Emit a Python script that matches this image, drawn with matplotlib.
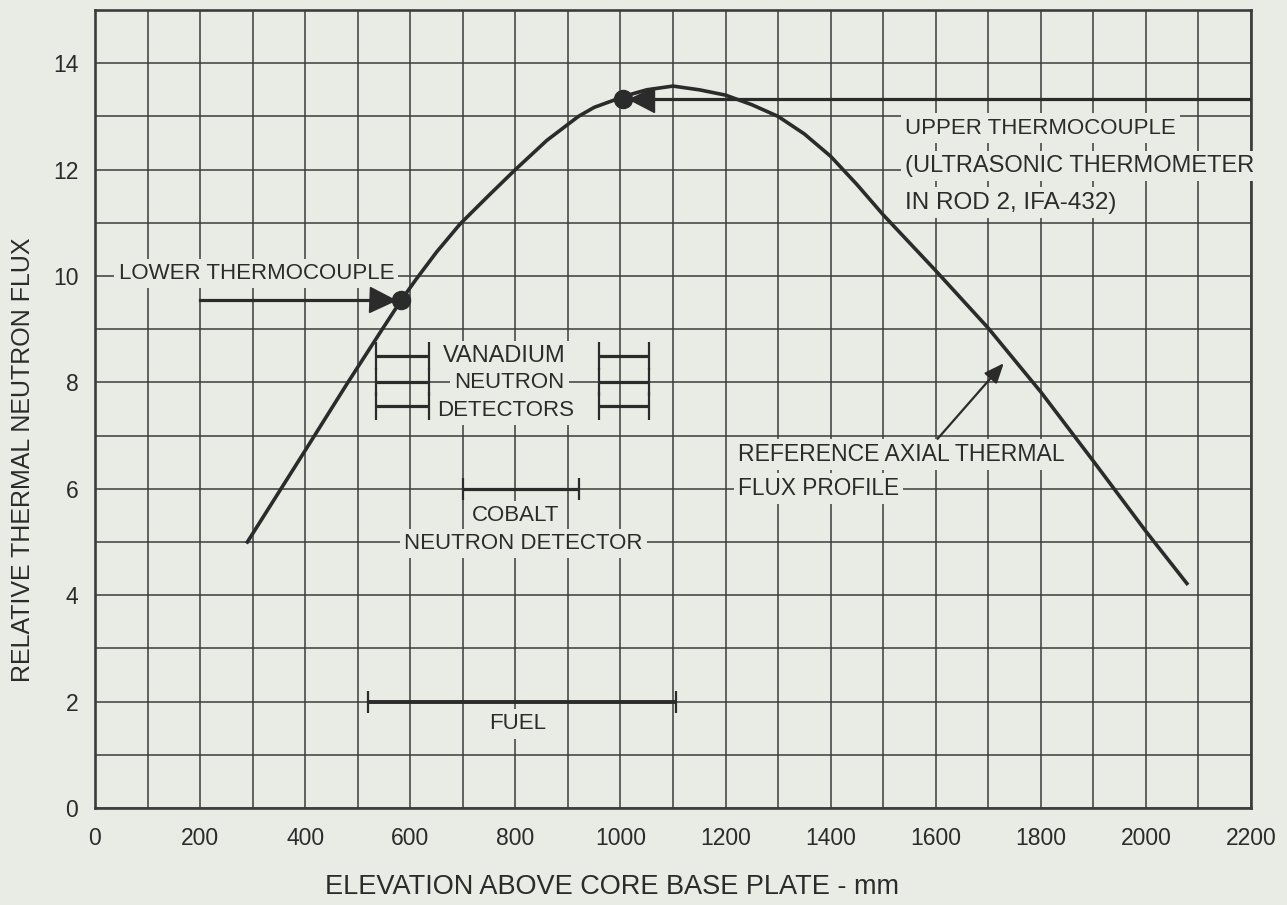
import numpy as np
import matplotlib
matplotlib.use('Agg')
import matplotlib.pyplot as plt

plt.rcParams['font.family'] = ['Liberation Sans', 'DejaVu Sans']

### data (elevation in mm, relative flux)
elev = [290, 400, 480, 550, 583, 612, 650, 695, 750, 800, 860, 920, 950,
        1000, 1025, 1050, 1100, 1150, 1200, 1250, 1300, 1350, 1400, 1450,
        1500, 1600, 1700, 1800, 1900, 2000, 2078]
flux = [5.0, 6.72, 7.98, 9.05, 9.55, 9.95, 10.45, 10.98, 11.52, 12.0, 12.55,
        13.0, 13.17, 13.35, 13.43, 13.5, 13.57, 13.5, 13.4, 13.22, 13.0,
        12.67, 12.25, 11.72, 11.15, 10.1, 9.02, 7.82, 6.52, 5.2, 4.22]

lower_tc = (583, 9.55)
upper_tc = (1004, 13.33)

vanadium_left = (535, 635)
vanadium_right = (960, 1055)
vanadium_y = [8.5, 8.0, 7.55]
cobalt = (700, 922)
cobalt_y = 6.0
fuel = (520, 1105)
fuel_y = 2.0

x_ticks = [0, 200, 400, 600, 800, 1000, 1200, 1400, 1600, 1800, 2000, 2200]
y_ticks = [0, 2, 4, 6, 8, 10, 12, 14]

bg = '#e9ece5'
ink = '#2b2b2b'
grid_c = '#3c3c3c'

fig = plt.figure(figsize=(12.87, 9.05), dpi=100, facecolor=bg)
ax = fig.add_axes([95 / 1287, (905 - 808) / 905, 1156 / 1287, 798 / 905])
ax.set_facecolor(bg)

ax.set_xlim(0, 2200)
ax.set_ylim(0, 15)

### grid every 100 mm and every unit
ax.set_xticks(x_ticks)
ax.set_xticks(np.arange(0, 2201, 100), minor=True)
ax.set_yticks(y_ticks)
ax.set_yticks(np.arange(0, 15.1, 1), minor=True)
ax.grid(True, which='both', color=grid_c, linewidth=1.1, zorder=1)
ax.set_axisbelow(True)
ax.tick_params(axis='both', which='both', length=0, labelsize=16.5,
               colors=ink)
ax.tick_params(axis='x', pad=14)
ax.tick_params(axis='y', pad=12)
ax.set_xticklabels([str(v) for v in x_ticks])
ax.set_yticklabels([str(v) for v in y_ticks])
for s in ax.spines.values():
    s.set_linewidth(1.9)
    s.set_color(grid_c)

### flux profile
ax.plot(elev, flux, color=ink, linewidth=2.6, solid_joinstyle='round',
        zorder=4)

### thermocouples
ax.plot([200, lower_tc[0] - 37], [lower_tc[1], lower_tc[1]], color=ink,
        linewidth=2.3, zorder=4)
ax.plot(lower_tc[0] - 37, lower_tc[1], marker='>', markersize=18, color=ink,
        zorder=5)
ax.plot(lower_tc[0], lower_tc[1], marker='o', markersize=13, color=ink,
        zorder=5)

ax.plot([upper_tc[0] + 36, 2200], [upper_tc[1], upper_tc[1]], color=ink,
        linewidth=2.3, zorder=4)
ax.plot(upper_tc[0] + 36, upper_tc[1], marker='<', markersize=18, color=ink,
        zorder=5)
ax.plot(upper_tc[0], upper_tc[1], marker='o', markersize=13, color=ink,
        zorder=5)

### detector spans
def span(x0, x1, y, lw=2.3, cap=10):
    ax.errorbar([(x0 + x1) / 2], [y], xerr=[(x1 - x0) / 2], fmt='none',
                ecolor=ink, elinewidth=lw, capsize=cap, capthick=1.6, zorder=4)

for y in vanadium_y:
    span(vanadium_left[0], vanadium_left[1], y)
    span(vanadium_right[0], vanadium_right[1], y)
span(cobalt[0], cobalt[1], cobalt_y, cap=8)
span(fuel[0], fuel[1], fuel_y, lw=2.8, cap=8)

### labels
box = dict(facecolor=bg, edgecolor='none', pad=3)

def label(x, y, s, size, ha='center'):
    ax.text(x, y, s, ha=ha, va='center', fontsize=size, color=ink, bbox=box,
            zorder=3)

label(45, 10.05, 'LOWER THERMOCOUPLE', 16, ha='left')
label(778, 8.5, 'VANADIUM', 17)
label(789, 8.0, 'NEUTRON', 16)
label(781, 7.47, 'DETECTORS', 16)
label(800, 5.5, 'COBALT', 16)
label(815, 4.97, 'NEUTRON DETECTOR', 16)
label(805, 1.58, 'FUEL', 16)
label(1542, 12.78, 'UPPER THERMOCOUPLE', 16, ha='left')
label(1542, 12.07, '(ULTRASONIC THERMOMETER', 17, ha='left')
label(1542, 11.38, 'IN ROD 2, IFA-432)', 17.5, ha='left')
label(1223, 6.65, 'REFERENCE AXIAL THERMAL', 16.6, ha='left')
label(1223, 6.0, 'FLUX PROFILE', 16.3, ha='left')

ax.annotate('', xy=(1733, 8.4), xytext=(1600, 6.9),
            arrowprops=dict(arrowstyle='-|>,head_length=0.6,head_width=0.25',
                            color=ink, linewidth=1.6, mutation_scale=20),
            zorder=5)

ax.text(0.447, -0.099, 'ELEVATION ABOVE CORE BASE PLATE - mm',
        transform=ax.transAxes, ha='center', va='center', fontsize=19.5,
        color=ink)
ax.text(-0.062, 0.436, 'RELATIVE THERMAL NEUTRON FLUX',
        transform=ax.transAxes, ha='center', va='center', fontsize=18,
        color=ink, rotation=90)

fig.savefig('out.png', dpi=100, facecolor=bg)
